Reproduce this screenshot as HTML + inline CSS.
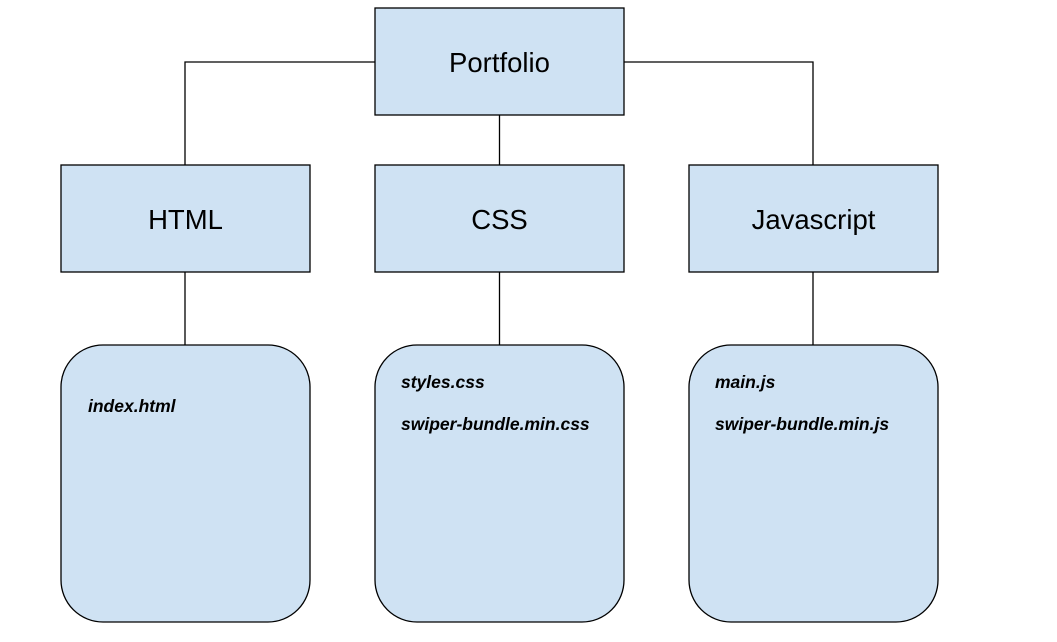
<!DOCTYPE html>
<html><head><style>html,body{margin:0;padding:0;background:#fff}svg{display:block}</style></head><body>
<svg width="1057" height="642" viewBox="0 0 1057 642" xmlns="http://www.w3.org/2000/svg" font-family="Liberation Sans, sans-serif">
<g stroke="#000" stroke-width="1.3" fill="none">
<path d="M375 62H185V165M624 62H813V165M499.5 115V165M185 272V345M499.5 272V345M813 272V345"/>
</g>
<g fill="#cfe2f3" stroke="#000" stroke-width="1.3">
<rect x="375" y="8" width="249" height="107"/>
<rect x="61" y="165" width="249" height="107"/>
<rect x="375" y="165" width="249" height="107"/>
<rect x="689" y="165" width="249" height="107"/>
<rect x="61" y="345" width="249" height="277" rx="42"/>
<rect x="375" y="345" width="249" height="277" rx="42"/>
<rect x="689" y="345" width="249" height="277" rx="42"/>
</g>
<g font-size="27.5" text-anchor="middle" fill="#000">
<text x="499.5" y="72">Portfolio</text>
<text x="185.5" y="229">HTML</text>
<text x="499.5" y="229">CSS</text>
<text x="813.5" y="229">Javascript</text>
</g>
<g font-size="17.5" font-weight="bold" font-style="italic" fill="#000">
<text x="88" y="412">index.html</text>
<text x="401" y="388">styles.css</text>
<text x="401" y="430">swiper-bundle.min.css</text>
<text x="715" y="388">main.js</text>
<text x="715" y="430">swiper-bundle.min.js</text>
</g>
</svg>
</body></html>
